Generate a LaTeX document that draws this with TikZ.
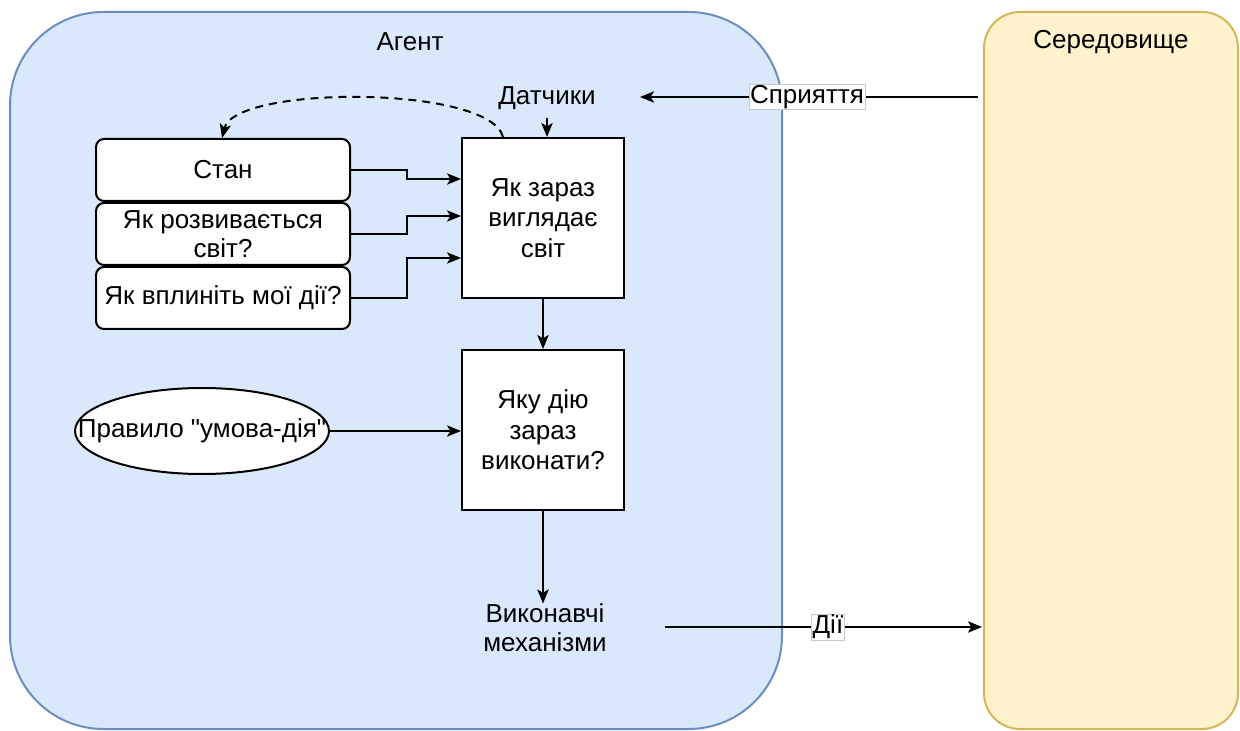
\documentclass[tikz,border=0pt]{standalone}
\usepackage{fontspec}
\setmainfont{Liberation Sans}[Ligatures=TeXOff]
\usetikzlibrary{arrows.meta,shapes.geometric,calc}
\definecolor{agentfill}{HTML}{DAE8FC}
\definecolor{agentline}{HTML}{6C8EBF}
\definecolor{envfill}{HTML}{FFF2CC}
\definecolor{envline}{HTML}{D6B656}
\definecolor{tagline}{HTML}{C8C8C8}

\begin{document}
\begin{tikzpicture}[x=0.75pt,y=-0.75pt,
  every node/.style={font=\fontsize{19.5}{22}\selectfont, text=black},
  arr/.style={line width=1.5pt, -{Stealth[length=10.5pt,width=8.5pt,inset=2.5pt]}},
  container/.style={line width=1.5pt, inner sep=0pt, minimum height=537.75pt},
  box/.style={draw, line width=1.5pt, fill=white, rectangle, inner sep=0pt,
    align=center, minimum width=121.5pt, minimum height=120pt},
  memo/.style={draw, line width=1.5pt, fill=white, rounded corners=6pt,
    inner sep=0pt, align=center, minimum width=190.5pt, minimum height=46.5pt},
  tag/.style={fill=white, draw=tagline, line width=0.6pt, inner sep=0.8pt},
  plain/.style={align=center, inner sep=0pt}
]
\useasboundingbox (0,0) rectangle (1240,731);

% containers
\node[container, draw=agentline, fill=agentfill, rounded corners=70pt,
  minimum width=579pt] (agent) at (396,370.5) {};
\node[container, draw=envline, fill=envfill, rounded corners=27pt,
  minimum width=190.5pt] (env) at (1111,370.5) {};
\node[plain] (agenttitle) at (410,42) {Агент};
\node[plain] (envtitle) at (1111,42) {Середовище};

% inner blocks
\node[plain, inner sep=6pt] (sens) at (547,98) {Датчики};
\node[box] (now) at (543,218) {Як зараз\\[1pt]виглядає\\[1pt]світ};
\node[box] (act) at (543,430) {Яку дію\\[1pt]зараз\\[1pt]виконати?};
\node[plain] (eff) at (545,628) {Виконавчі\\механізми};

\node[memo] (state) at (223,170) {Стан};
\node[memo] (evolve) at (223,234) {Як розвивається\\світ?};
\node[memo] (impact) at (223,298) {Як вплиніть мої дії?};

% the rule text is wider than its ellipse and spills onto the outline
\node[draw, ellipse, line width=1.5pt, fill=white, inner sep=0pt,
  minimum width=190.5pt, minimum height=64.5pt] (rule) at (202,431)
  {\makebox[0pt][c]{Правило "умова-дія"}};

% free ends of the outer connectors
\coordinate (percfrom) at (978,97);
\coordinate (percto) at (640,97);
\coordinate (actfrom) at (665,627);
\coordinate (actto) at (982,627);

% connectors
\draw[arr] (sens.south) -- (now.north -| sens.south);
\draw[arr] (now.south) -- (act.north);
\draw[arr] (act.south) -- (act.south |- eff.north);
\draw[arr] (rule.east) -- (act.west |- rule.east);

\draw[arr] (state.east) -- ++(56,0) |- ($(now.west)+(0,-39)$);
\draw[arr] (evolve.east) -- ++(56,0) |- ($(now.west)+(0,-2)$);
\draw[arr] (impact.east) -- ++(56,0) |- ($(now.west)+(0,40)$);

\draw[arr, dash pattern=on 6pt off 4.5pt]
  ($(now.north west)+(42,0)$) .. controls (490,85) and (235,85) ..
  ($(state.north west)+(127,0)$);

\draw[arr] (percfrom) -- node[tag, pos=0.506] (perclbl) {Сприяття} (percto);
\draw[arr] (actfrom) -- node[tag, pos=0.514] (actlbl) {Дії} (actto);
\end{tikzpicture}
\end{document}
